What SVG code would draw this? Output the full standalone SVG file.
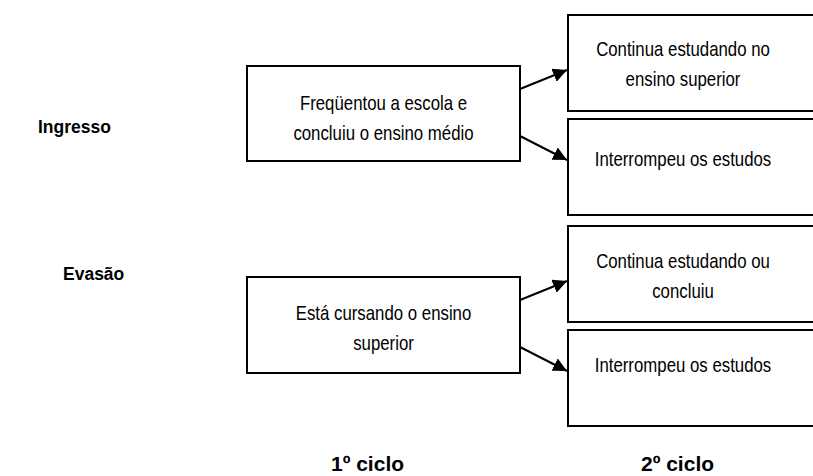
<svg xmlns="http://www.w3.org/2000/svg" width="813" height="476" viewBox="0 0 813 476">
<style>
.box{fill:#fff;stroke:#000;stroke-width:2}
.t{font-family:"Liberation Sans",Arial,sans-serif;font-size:20.5px;fill:#000;text-anchor:middle}
.b{font-family:"Liberation Sans",Arial,sans-serif;font-size:17.5px;font-weight:bold;fill:#000}
.cy{font-family:"Liberation Sans",Arial,sans-serif;font-size:21px;font-weight:bold;fill:#000}
.c{stroke:#000;stroke-width:2;fill:none}
</style>
<defs>
<marker id="ah" viewBox="0 0 10 10" refX="10" refY="5" markerWidth="7" markerHeight="7" orient="auto" markerUnits="strokeWidth">
<path d="M0,0 L10,5 L0,10 z" fill="#000"/>
</marker>
</defs>
<rect width="813" height="476" fill="#fff"/>
<g id="label-ingresso"><text class="b" x="38" y="133">Ingresso</text></g>
<g id="label-evasao"><text class="b" x="63" y="280">Evasão</text></g>
<g id="label-ciclo1"><text class="cy" x="331" y="471">1º ciclo</text></g>
<g id="label-ciclo2"><text class="cy" x="641" y="471">2º ciclo</text></g>
<g id="node-frequentou">
<rect class="box" x="247" y="66" width="273" height="95"/>
<text class="t" transform="matrix(0.82 0 0 1 383.5 110)">Freqüentou a escola e</text>
<text class="t" transform="matrix(0.82 0 0 1 383.5 140)">concluiu o ensino médio</text>
</g>
<g id="node-cursando">
<rect class="box" x="247" y="277" width="273" height="96"/>
<text class="t" transform="matrix(0.82 0 0 1 383.5 320)">Está cursando o ensino</text>
<text class="t" transform="matrix(0.82 0 0 1 383.5 350)">superior</text>
</g>
<g id="node-continua-superior">
<rect class="box" x="568" y="15" width="260" height="96"/>
<text class="t" transform="matrix(0.82 0 0 1 683 56)">Continua estudando no</text>
<text class="t" transform="matrix(0.82 0 0 1 683 86)">ensino superior</text>
</g>
<g id="node-interrompeu-1">
<rect class="box" x="568" y="119" width="260" height="96"/>
<text class="t" transform="matrix(0.82 0 0 1 683 166)">Interrompeu os estudos</text>
</g>
<g id="node-continua-concluiu">
<rect class="box" x="568" y="226" width="260" height="96"/>
<text class="t" transform="matrix(0.82 0 0 1 683 268)">Continua estudando ou</text>
<text class="t" transform="matrix(0.82 0 0 1 683 298)">concluiu</text>
</g>
<g id="node-interrompeu-2">
<rect class="box" x="568" y="330" width="260" height="96"/>
<text class="t" transform="matrix(0.82 0 0 1 683 372)">Interrompeu os estudos</text>
</g>
<g id="connectors">
<line class="c" x1="520" y1="89" x2="567" y2="70" marker-end="url(#ah)"/>
<line class="c" x1="520" y1="136" x2="567" y2="160" marker-end="url(#ah)"/>
<line class="c" x1="520" y1="300" x2="567" y2="281" marker-end="url(#ah)"/>
<line class="c" x1="520" y1="347" x2="567" y2="371" marker-end="url(#ah)"/>
</g>
</svg>
